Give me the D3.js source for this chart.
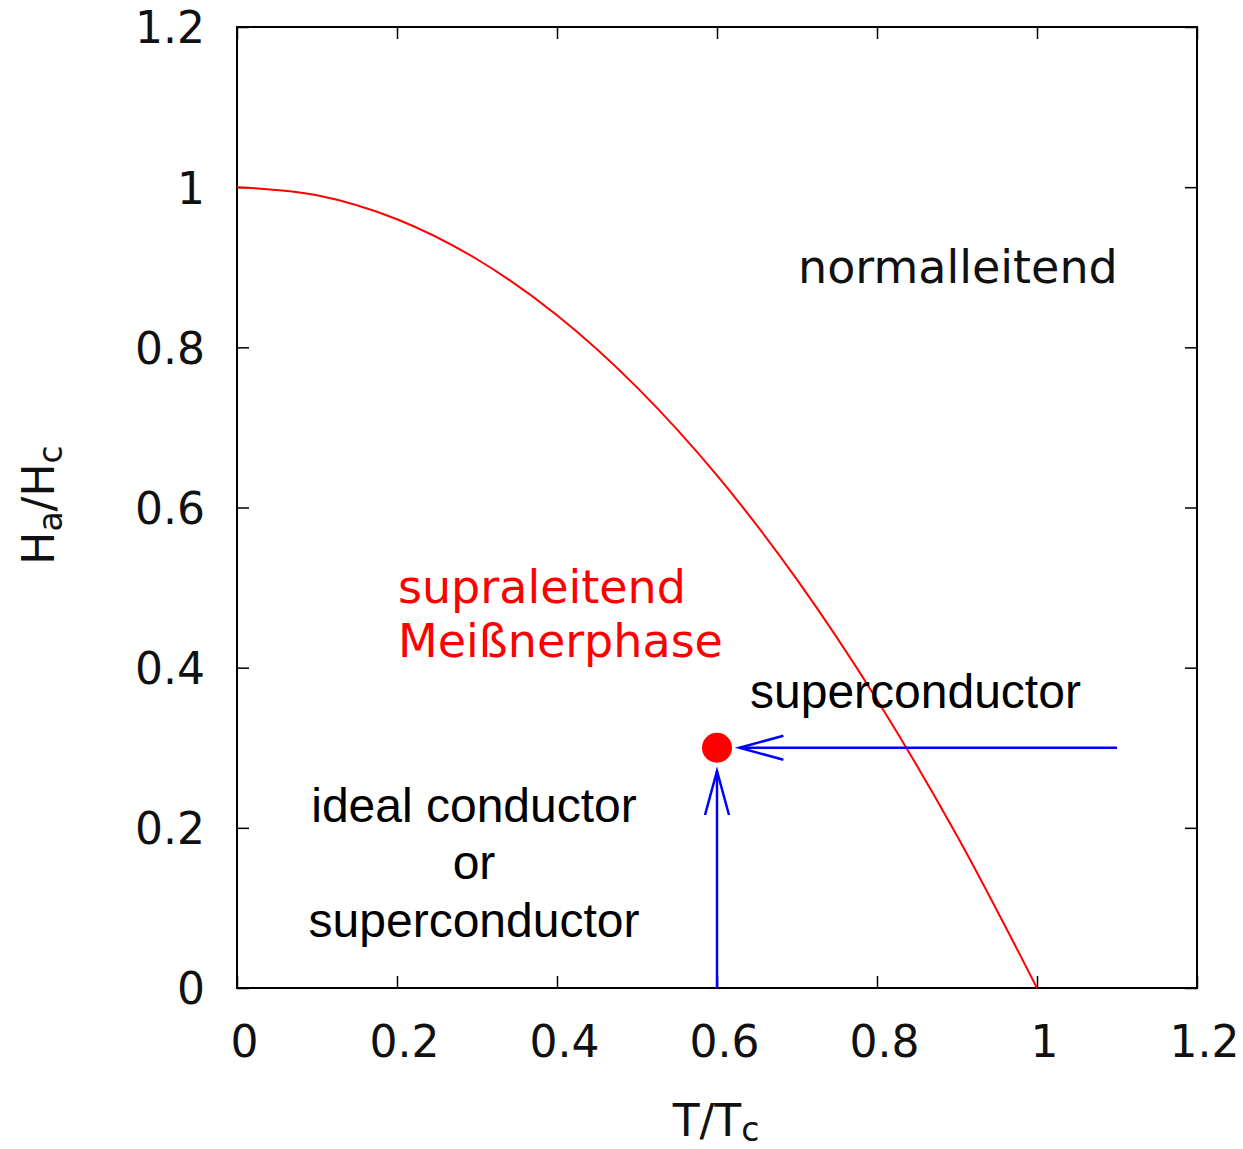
<!DOCTYPE html>
<html><head><meta charset="utf-8">
<script src="https://cdn.jsdelivr.net/npm/d3@7"></script>
<style>body{margin:0;background:#fff}</style>
</head><body>
<svg id="c" width="1243" height="1149"></svg>
<script>
// data
const curveT = [0, 0.1, 0.2, 0.3, 0.4, 0.5, 0.6, 0.7, 0.8, 0.9, 1.0];
const curveH = [1.0, 0.99, 0.96, 0.91, 0.84, 0.75, 0.64, 0.51, 0.36, 0.19, 0.0];
const xTicks = [0, 0.2, 0.4, 0.6, 0.8, 1, 1.2];
const yTicks = [0, 0.2, 0.4, 0.6, 0.8, 1, 1.2];
const pointT = 0.6, pointH = 0.3;
const arrowH = {x1: 1.1, y1: 0.3, x2: 0.628, y2: 0.3};
const arrowV = {x1: 0.6, y1: 0.0, x2: 0.6, y2: 0.271};

const svg = d3.select("#c");
const pL = 237, pR = 1197, pT = 27, pB = 988;
const x = d3.scaleLinear().domain([0, 1.2]).range([pL, pR]);
const y = d3.scaleLinear().domain([0, 1.2]).range([pB, pT]);
const dv = "DejaVu Sans";
const ar = "Liberation Sans, Arial";

// frame
svg.append("rect").attr("x", pL).attr("y", pT).attr("width", pR - pL).attr("height", pB - pT)
  .attr("fill", "none").attr("stroke", "#000").attr("stroke-width", 2);

// axes with inward ticks, mirrored
const fmt = d => d3.format("")(d);
const gBottom = svg.append("g").attr("transform", `translate(0,${pB})`)
  .call(d3.axisBottom(x).tickValues(xTicks).tickSize(-12).tickPadding(38).tickFormat(fmt));
const gTop = svg.append("g").attr("transform", `translate(0,${pT})`)
  .call(d3.axisTop(x).tickValues(xTicks).tickSize(-12).tickFormat(""));
const gLeft = svg.append("g").attr("transform", `translate(${pL},0)`)
  .call(d3.axisLeft(y).tickValues(yTicks).tickSize(-12).tickPadding(32).tickFormat(fmt));
const gRight = svg.append("g").attr("transform", `translate(${pR},0)`)
  .call(d3.axisRight(y).tickValues(yTicks).tickSize(-12).tickFormat(""));
[gBottom, gTop, gLeft, gRight].forEach(g => {
  g.select(".domain").remove();
  g.selectAll(".tick line").attr("stroke", "#000").attr("stroke-width", 1.5);
  g.selectAll(".tick text").attr("font-family", dv).attr("font-size", 44).attr("fill", "#111");
});
gBottom.selectAll(".tick text").attr("dx", 7).attr("dy", "0.71em");
gLeft.selectAll(".tick text").attr("dy", "0.36em");

// axis labels
const xl = svg.append("text").attr("x", 716).attr("y", 1136).attr("text-anchor", "middle")
  .attr("font-family", dv).attr("font-size", 44).attr("fill", "#111");
xl.append("tspan").text("T/T");
xl.append("tspan").text("c").attr("font-size", 33).attr("dy", 5);
const yl = svg.append("text").attr("transform", "translate(54,505) rotate(-90)").attr("text-anchor", "middle")
  .attr("font-family", dv).attr("font-size", 44).attr("fill", "#111");
yl.append("tspan").text("H");
yl.append("tspan").text("a").attr("font-size", 33).attr("dy", 8);
yl.append("tspan").text("/H").attr("dy", -8);
yl.append("tspan").text("c").attr("font-size", 33).attr("dy", 8);

// curve
const pts = curveT.map((t, i) => [t, curveH[i]]);
svg.append("path").datum(pts)
  .attr("d", d3.line().x(d => x(d[0])).y(d => y(d[1])).curve(d3.curveMonotoneX))
  .attr("fill", "none").attr("stroke", "#ff0000").attr("stroke-width", 2);

// arrows
function arrow(a) {
  const x1 = x(a.x1), y1 = y(a.y1), x2 = x(a.x2), y2 = y(a.y2);
  const ang = Math.atan2(y2 - y1, x2 - x1);
  const len = 44, hw = 12;
  const bx = x2 - len * Math.cos(ang), by = y2 - len * Math.sin(ang);
  const px = -Math.sin(ang) * hw, py = Math.cos(ang) * hw;
  const g = svg.append("g").attr("stroke", "#0000ff").attr("stroke-width", 2.5).attr("fill", "none");
  g.append("line").attr("x1", x1).attr("y1", y1).attr("x2", x2).attr("y2", y2);
  g.append("path").attr("d", `M${bx + px},${by + py}L${x2},${y2}L${bx - px},${by - py}`);
}
arrow(arrowH);
arrow(arrowV);

// point
svg.append("circle").attr("cx", x(pointT)).attr("cy", y(pointH)).attr("r", 15).attr("fill", "#ff0000");

// annotations
svg.append("text").attr("x", 798).attr("y", 283).attr("font-family", dv).attr("font-size", 46)
  .attr("fill", "#111").text("normalleitend");
svg.append("text").attr("x", 398).attr("y", 603).attr("font-family", dv).attr("font-size", 46)
  .attr("fill", "#ff0000").text("supraleitend");
svg.append("text").attr("x", 398).attr("y", 657).attr("font-family", dv).attr("font-size", 46)
  .attr("fill", "#ff0000").text("Meißnerphase");
svg.append("text").attr("x", 750).attr("y", 708).attr("font-family", ar).attr("font-size", 48)
  .attr("fill", "#000").text("superconductor");
[["ideal conductor", 822], ["or", 879], ["superconductor", 937]].forEach(([t, yy]) => {
  svg.append("text").attr("x", 474).attr("y", yy).attr("text-anchor", "middle")
    .attr("font-family", ar).attr("font-size", 48).attr("fill", "#000").text(t);
});
</script>
</body></html>
